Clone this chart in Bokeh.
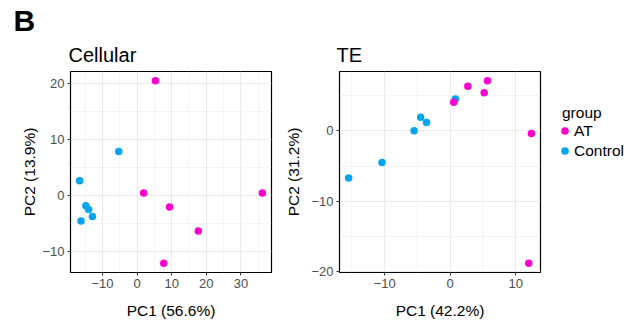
import numpy as np
from bokeh.plotting import figure
from bokeh.layouts import row
from bokeh.models import Range1d, FixedTicker, Label, Legend, LegendItem, Title
from bokeh.embed import file_html
from bokeh.resources import INLINE

FONT = "Liberation Sans"
AT_COLOR = "#FF00CC"
CTRL_COLOR = "#00A5EF"

# ---- data: Cellular ----
cell_at_pc1 = [5.3, 1.9, 9.4, 17.7, 7.7, 36.2]
cell_at_pc2 = [20.5, 0.4, -2.1, -6.4, -12.2, 0.4]
cell_ctrl_pc1 = [-5.3, -16.6, -16.2, -14.8, -14.0, -12.9]
cell_ctrl_pc2 = [7.8, 2.6, -4.6, -1.9, -2.55, -3.8]

# ---- data: TE ----
te_at_pc1 = [5.7, 2.7, 5.2, 0.55, 12.4, 12.0]
te_at_pc2 = [7.1, 6.3, 5.4, 4.05, -0.38, -18.8]
te_ctrl_pc1 = [0.8, -4.5, -3.6, -5.5, -10.4, -15.5]
te_ctrl_pc2 = [4.5, 1.9, 1.17, 0.0, -4.5, -6.7]

# ---- ticks ----
cell_x_ticks = [-10, 0, 10, 20, 30]
cell_x_labels = ["\u221210", "0", "10", "20", "30"]
cell_x_minor = [-15, -5, 5, 15, 25, 35]
cell_y_ticks = [-10, 0, 10, 20]
cell_y_labels = ["\u221210", "0", "10", "20"]
cell_y_minor = [-5, 5, 15]

te_x_ticks = [-10, 0, 10]
te_x_labels = ["\u221210", "0", "10"]
te_x_minor = [-15, -5, 5]
te_y_ticks = [-20, -10, 0]
te_y_labels = ["\u221220", "\u221210", "0"]
te_y_minor = [-15, -5, 5]

group_names = ["AT", "Control"]
legend_title = "group"
panel_letter = "B"

ROW_H = 322


def padded(vals, frac=0.05):
    lo, hi = min(vals), max(vals)
    d = (hi - lo) * frac
    return Range1d(lo - d, hi + d)


def style_title(t, size, bold=False):
    t.text_font = FONT
    t.text_font_size = size
    t.text_font_style = "bold" if bold else "normal"
    t.text_color = "black"
    t.align = "left"


def make_panel(ctrl_x, ctrl_y, at_x, at_y, xlabel, ylabel,
               xt, xl, xm, yt, yl, ym, width, mbl, mbr,
               ylab_standoff, xlab_standoff):
    p = figure(width=width, height=ROW_H, output_backend="svg", toolbar_location=None,
               x_range=padded(ctrl_x + at_x), y_range=padded(ctrl_y + at_y),
               min_border_left=mbl, min_border_right=mbr,
               min_border_top=71, min_border_bottom=50)
    p.background_fill_color = "white"
    p.border_fill_color = "white"
    p.outline_line_color = "black"
    p.outline_line_width = 1.2

    p.xaxis.ticker = FixedTicker(ticks=xt, minor_ticks=xm)
    p.yaxis.ticker = FixedTicker(ticks=yt, minor_ticks=ym)
    p.xaxis.major_label_overrides = {t: s for t, s in zip(xt, xl)}
    p.yaxis.major_label_overrides = {t: s for t, s in zip(yt, yl)}
    p.xaxis.axis_label = xlabel
    p.yaxis.axis_label = ylabel
    for ax in (p.xaxis[0], p.yaxis[0]):
        ax.axis_line_color = None
        ax.major_tick_line_color = "#333333"
        ax.major_tick_out = 3
        ax.major_tick_in = 0
        ax.minor_tick_out = 0
        ax.minor_tick_in = 0
        ax.major_label_text_font = FONT
        ax.major_label_text_font_size = "13px"
        ax.major_label_text_color = "#4D4D4D"
        ax.major_label_standoff = 3
        ax.axis_label_text_font = FONT
        ax.axis_label_text_font_size = "15.5px"
        ax.axis_label_text_font_style = "normal"
        ax.axis_label_text_color = "black"
    p.yaxis[0].axis_label_standoff = ylab_standoff
    p.xaxis[0].axis_label_standoff = xlab_standoff
    for g in (p.xgrid[0], p.ygrid[0]):
        g.grid_line_color = "#EBEBEB"
        g.grid_line_width = 1
        g.minor_grid_line_color = "#EFEFEF"
        g.minor_grid_line_width = 0.6

    p.scatter(ctrl_x, ctrl_y, size=7.5, color=CTRL_COLOR, line_color=None)
    p.scatter(at_x, at_y, size=7.5, color=AT_COLOR, line_color=None)
    return p


p1 = make_panel(cell_ctrl_pc1, cell_ctrl_pc2, cell_at_pc1, cell_at_pc2,
                "PC1 (56.6%)", "PC2 (13.9%)",
                cell_x_ticks, cell_x_labels, cell_x_minor,
                cell_y_ticks, cell_y_labels, cell_y_minor,
                width=281, mbl=70, mbr=10, ylab_standoff=1, xlab_standoff=11)
# outer title: panel letter
p1.title.text = panel_letter
style_title(p1.title, "30px", bold=True)
p1.title.offset = -57
p1.title.standoff = 0
# inner title: panel name
p1.add_layout(Title(text="Cellular", text_font=FONT, text_font_size="20px",
                    text_font_style="normal", text_color="black",
                    align="left", offset=-2, standoff=11), "above")

p2 = make_panel(te_ctrl_pc1, te_ctrl_pc2, te_at_pc1, te_at_pc2,
                "PC1 (42.2%)", "PC2 (31.2%)",
                te_x_ticks, te_x_labels, te_x_minor,
                te_y_ticks, te_y_labels, te_y_minor,
                width=269, mbl=58, mbr=10, ylab_standoff=6, xlab_standoff=11)
p2.title.text = "TE"
style_title(p2.title, "20px")
p2.title.offset = -3
p2.title.standoff = 11

# legend panel (frame is aligned with the two plot panels by the row)
p3 = figure(width=92, height=ROW_H, output_backend="svg", toolbar_location=None,
            x_axis_location=None, y_axis_location=None,
            x_range=Range1d(0, 1), y_range=Range1d(0, 1),
            min_border_left=0, min_border_right=0, min_border_top=71, min_border_bottom=50)
p3.grid.visible = False
p3.outline_line_color = None
p3.background_fill_color = "white"
p3.border_fill_color = "white"
nan = np.array([np.nan])
lr_at = p3.scatter(nan, nan, size=7.5, color=AT_COLOR, line_color=None)
lr_ctrl = p3.scatter(nan, nan, size=7.5, color=CTRL_COLOR, line_color=None)
legend = Legend(items=[LegendItem(label=group_names[0], renderers=[lr_at]),
                       LegendItem(label=group_names[1], renderers=[lr_ctrl])],
                location=(5, 112), orientation="vertical",
                glyph_width=19, glyph_height=19, label_height=19,
                label_standoff=0, spacing=1, padding=0, margin=0,
                border_line_color=None, background_fill_alpha=0,
                label_text_font=FONT, label_text_font_size="15.5px",
                label_text_color="black")
p3.add_layout(legend, "center")
p3.add_layout(Label(x=11.5, y=160.3, x_units="screen", y_units="screen",
                    text=legend_title, text_font=FONT, text_font_size="15.5px",
                    text_color="black", text_baseline="middle"))

layout = row(p1, p2, p3)
open("out.html", "w").write(file_html(layout, INLINE))
